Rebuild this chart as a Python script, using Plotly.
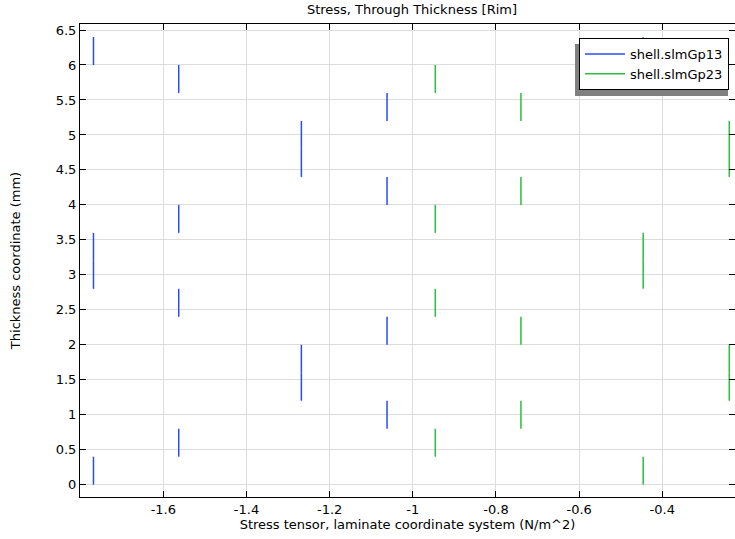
import plotly.graph_objects as go

# Ply boundaries (mm), 16 plies of 0.4 mm
ply_bottom = [0.0, 0.4, 0.8, 1.2, 1.6, 2.0, 2.4, 2.8, 3.2, 3.6, 4.0, 4.4, 4.8, 5.2, 5.6, 6.0]
ply_top = [0.4, 0.8, 1.2, 1.6, 2.0, 2.4, 2.8, 3.2, 3.6, 4.0, 4.4, 4.8, 5.2, 5.6, 6.0, 6.4]

# Stress per ply (N/m^2)
slmGp13 = [-1.768, -1.563, -1.062, -1.268, -1.268, -1.062, -1.563, -1.768,
           -1.768, -1.563, -1.062, -1.268, -1.268, -1.062, -1.563, -1.768]
slmGp23 = [-0.446, -0.946, -0.740, -0.239, -0.239, -0.740, -0.946, -0.446,
           -0.446, -0.946, -0.740, -0.239, -0.239, -0.740, -0.946, -0.446]

series_names = ["shell.slmGp13", "shell.slmGp23"]
series_colors = ["#2a4bf0", "#2ebd3e"]

x_ticks = [-1.6, -1.4, -1.2, -1.0, -0.8, -0.6, -0.4]
x_tick_labels = ["-1.6", "-1.4", "-1.2", "-1", "-0.8", "-0.6", "-0.4"]
y_ticks = [0, 0.5, 1, 1.5, 2, 2.5, 3, 3.5, 4, 4.5, 5, 5.5, 6, 6.5]
y_tick_labels = ["0", "0.5", "1", "1.5", "2", "2.5", "3", "3.5", "4", "4.5", "5", "5.5", "6", "6.5"]


def segments(values):
    xs, ys = [], []
    for v, b, t in zip(values, ply_bottom, ply_top):
        xs += [v, v, None]
        ys += [b, t, None]
    return xs, ys


fig = go.Figure()
for name, vals, col in zip(series_names, [slmGp13, slmGp23], series_colors):
    xs, ys = segments(vals)
    fig.add_trace(go.Scatter(x=xs, y=ys, mode="lines", name=name,
                             line=dict(color=col, width=1.5),
                             connectgaps=False))

FS = 13
font = dict(family="DejaVu Sans", size=FS, color="#000000")

L, T, B = 80, 24, 42.3
PW, PH = 735 - L, 539 - T - B

fig.update_layout(
    width=735, height=539,
    margin=dict(l=L, r=0, t=T, b=B, autoexpand=False),
    paper_bgcolor="white", plot_bgcolor="white",
    font=font,
    title=dict(text="Stress, Through Thickness [Rim]", x=0.5605, xanchor="center",
               y=0.982, yanchor="middle", font=dict(family="DejaVu Sans", size=FS)),
    showlegend=True,
    legend=dict(x=(579 - L) / PW, xanchor="left", y=(539 - B - 38) / PH, yanchor="top",
                bgcolor="white", bordercolor="#000000", borderwidth=1,
                font=dict(family="DejaVu Sans", size=FS),
                tracegroupgap=2, itemwidth=40),
    xaxis=dict(range=[-1.8004, -0.2252], tickvals=x_ticks, ticktext=x_tick_labels,
               showgrid=True, gridcolor="#dcdcdc", gridwidth=1, zeroline=False,
               showline=True, linecolor="#000000", linewidth=1, mirror="ticks",
               ticks="inside", ticklen=6, tickcolor="#000000", automargin=False,
               title=dict(text="Stress tensor, laminate coordinate system (N/m^2)",
                          standoff=2, font=dict(family="DejaVu Sans", size=FS))),
    yaxis=dict(range=[-0.176, 6.586], tickvals=y_ticks, ticktext=y_tick_labels,
               showgrid=True, gridcolor="#dcdcdc", gridwidth=1, zeroline=False,
               showline=True, linecolor="#000000", linewidth=1, mirror="ticks",
               ticks="inside", ticklen=6, tickcolor="#000000", automargin=False,
               title=dict(text="Thickness coordinate (mm)", standoff=32,
                          font=dict(family="DejaVu Sans", size=FS))),
)

# legend drop shadow
fig.add_shape(type="rect", xref="paper", yref="paper",
              x0=(575 - L) / PW, x1=(728 - L) / PW,
              y0=(539 - B - 96) / PH, y1=(539 - B - 44) / PH,
              fillcolor="#808080", line=dict(width=0), layer="above")

fig.write_html("out.html", config={"displayModeBar": False},
               post_script="document.body.style.margin='0px';")
